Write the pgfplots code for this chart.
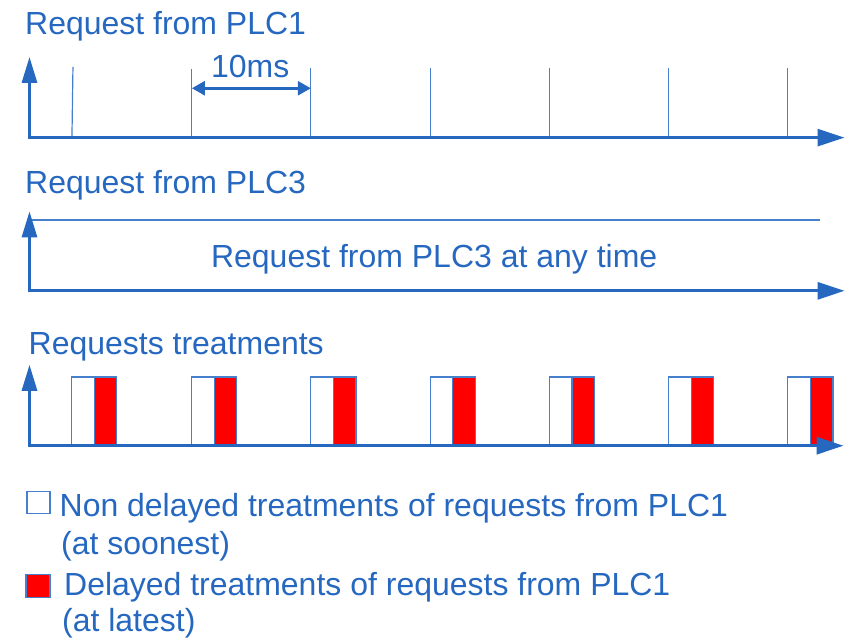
\documentclass[border=0pt]{standalone}
\usepackage{pgfplots}
\pgfplotsset{compat=1.18}
\usetikzlibrary{arrows.meta}
\usepackage{fontspec}
\setmainfont{Liberation Sans}
\definecolor{ablue}{RGB}{38,104,192}
\definecolor{lblue}{RGB}{70,128,205}
\tikzset{lbl/.style={anchor=base west, font=\fontsize{32bp}{38bp}\selectfont, text=ablue, inner sep=0pt}}
\begin{document}
\begin{tikzpicture}
\begin{axis}[
  width=846bp, height=640bp, scale only axis,
  xmin=0, xmax=846, ymin=0, ymax=640, y dir=reverse,
  hide axis, clip=false,
]
\addplot[draw=none] coordinates {(0,0) (846,640)};
% ---------- panel 1 : pulses ----------
\addplot[lblue, line width=1.2bp] coordinates {(72,137) (73,67)};
\addplot[lblue, line width=1.2bp] coordinates {(191.7,137) (191.7,69)};
\addplot[lblue, line width=1.2bp] coordinates {(311,137) (311,68)};
\addplot[lblue, line width=1.2bp] coordinates {(430.5,137) (430.5,68)};
\addplot[lblue, line width=1.2bp] coordinates {(549.8,137) (549.8,68)};
\addplot[lblue, line width=1.2bp] coordinates {(669,137) (669,68)};
\addplot[lblue, line width=1.2bp] coordinates {(788.3,137) (788.3,68)};
\addplot[ablue, line width=2.6bp, {Triangle[length=13bp,width=14bp]}-{Triangle[length=13bp,width=14bp]}] coordinates {(192,88.3) (311,88.3)};
\node[lbl] at (axis cs:211,77.5) {10ms};
\addplot[ablue, line width=3bp, -{Triangle[length=26bp,width=15bp]}] coordinates {(29.5,139) (29.5,57)};
\addplot[ablue, line width=3bp, -{Triangle[length=27bp,width=17bp]}] coordinates {(28,137.7) (845,137.7)};
\node[lbl] at (axis cs:25,35) {Request from PLC1};
% ---------- panel 2 ----------
\addplot[lblue, line width=1.5bp] coordinates {(31,220) (820,220)};
\addplot[ablue, line width=3bp, -{Triangle[length=26bp,width=15bp]}] coordinates {(29.5,292.5) (29.5,211.5)};
\addplot[ablue, line width=3bp, -{Triangle[length=27bp,width=17bp]}] coordinates {(28,291) (845,291)};
\node[lbl] at (axis cs:25,194) {Request from PLC3};
\node[lbl] at (axis cs:211,268) {Request from PLC3 at any time};
% ---------- panel 3 : treatments ----------
\pgfplotsinvokeforeach{71.7,191.7,311,430.5,549.8,669,788.3}{
  \addplot[fill=white, draw=lblue, line width=1.2bp] coordinates {(#1,445) (#1,377.3) (#1+22.6,377.3) (#1+22.6,445)} -- cycle;
  \addplot[fill=red, draw=lblue, line width=1.2bp] coordinates {(#1+22.6,445) (#1+22.6,377.3) (#1+45.2,377.3) (#1+45.2,445)} -- cycle;
}
\addplot[ablue, line width=3bp, -{Triangle[length=26bp,width=15bp]}] coordinates {(29.5,447.5) (29.5,365)};
\addplot[ablue, line width=3bp, -{Triangle[length=27bp,width=17bp]}] coordinates {(28,446) (844,446)};
\node[lbl] at (axis cs:28.5,355) {Requests treatments};
% ---------- legend ----------
\addplot[fill=white, draw=lblue, line width=1.2bp] coordinates {(27,514) (27,492) (50,492) (50,514)} -- cycle;
\addplot[fill=red, draw=lblue, line width=1.2bp] coordinates {(26,598) (26,575) (50,575) (50,598)} -- cycle;
\node[lbl] at (axis cs:59.5,516.5) {Non delayed treatments of requests from PLC1};
\node[lbl] at (axis cs:61,554.5) {(at soonest)};
\node[lbl] at (axis cs:64,596) {Delayed treatments of requests from PLC1};
\node[lbl] at (axis cs:62,631.5) {(at latest)};
\end{axis}
\end{tikzpicture}
\end{document}
